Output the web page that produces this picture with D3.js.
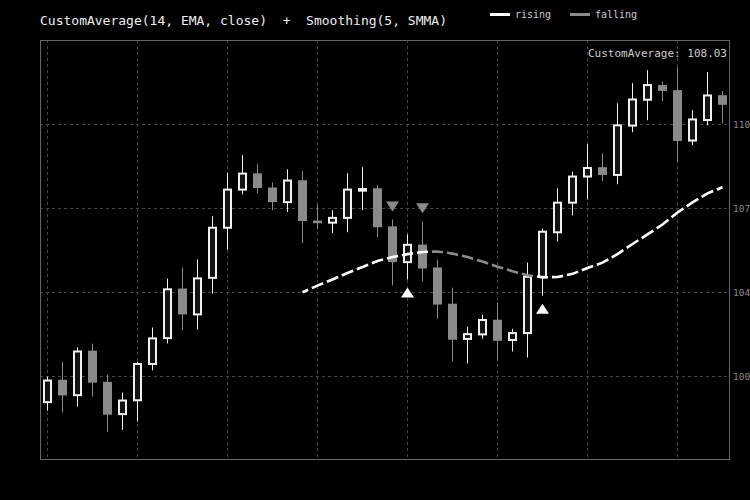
<!DOCTYPE html>
<html>
<head>
<meta charset="utf-8">
<script src="https://cdn.jsdelivr.net/npm/d3@7"></script>
<style>
  html, body { margin: 0; padding: 0; background: #000; }
  svg { display: block; }
  text { font-family: "DejaVu Sans Mono", monospace; }
</style>
</head>
<body>
<svg id="chart" width="750" height="500"></svg>
<script>
// ---- data ----
const opens  = [99.97,100.81,100.23,101.90,100.73,99.52,100.04,101.40,102.37,104.23,103.26,104.63,106.51,107.94,108.55,108.02,107.47,108.29,106.78,106.70,106.88,107.90,107.99,106.56,105.22,105.88,105.02,103.66,102.34,102.51,103.06,102.30,102.56,104.67,106.34,107.45,108.43,108.78,108.49,110.34,111.31,111.86,111.67,109.78,110.55,111.48];
const highs  = [100.93,101.48,102.03,102.16,100.99,100.33,101.49,102.77,104.60,105.02,105.32,106.94,108.56,109.23,108.89,108.21,108.70,108.63,107.38,107.17,108.56,108.78,108.11,106.82,106.26,106.75,105.32,104.26,102.80,103.25,103.70,102.72,105.20,106.48,107.99,108.61,109.64,109.30,111.18,111.93,112.42,111.98,112.53,110.92,112.35,111.63];
const lows   = [99.65,99.58,99.80,100.18,98.86,98.93,99.24,101.16,102.17,102.66,102.69,104.04,105.69,107.76,107.80,107.17,107.10,105.93,106.47,106.31,106.34,107.17,106.16,104.35,104.57,104.49,103.10,101.49,101.42,102.35,101.52,101.87,101.64,103.96,105.99,106.97,107.57,108.26,108.14,110.09,110.54,111.26,108.97,109.61,110.35,110.42];
const closes = [100.78,100.22,101.87,100.70,99.50,100.03,101.40,102.36,104.20,103.26,104.61,106.51,107.94,108.54,108.00,107.47,108.28,106.76,106.68,106.88,107.94,107.96,106.53,105.22,105.87,104.98,103.63,102.31,102.52,103.05,102.27,102.56,104.67,106.36,107.45,108.43,108.75,108.49,110.35,111.32,111.86,111.64,109.76,110.57,111.47,111.12];
// smoothed average, starts at bar 17
const avgStart = 17;
const avgValues = [104.09,104.34,104.57,104.81,105.04,105.26,105.41,105.52,105.60,105.62,105.54,105.41,105.24,105.05,104.88,104.73,104.65,104.66,104.78,105.00,105.20,105.52,105.90,106.26,106.63,107.08,107.46,107.80,108.03];
const sellSignals = [23, 25];
const buySignals  = [24, 33];
const yDomain = [97.8, 113.55];
const yTicks  = [100.95, 104.10, 107.25, 110.40];
const yTickLabels = ["100", "104", "107", "110"];
const xGridBars = [0, 6, 12, 18, 24, 30, 36, 42];
const titleText = "CustomAverage(14, EMA, close)  +  Smoothing(5, SMMA)";
const legendItems = ["rising", "falling"];

// ---- styles ----
const C_RISE = "#f0f0f0", C_FALL = "#8a8a8a", C_GRID = "#444", C_FRAME = "#666";
const L = 40, R = 730, T = 40, B = 460;

const svg = d3.select("#chart");
svg.append("rect").attr("width", 750).attr("height", 500).attr("fill", "#000");

const bars = d3.range(opens.length);
const x = d3.scaleBand().domain(bars).range([L, R]);
const cx = i => x(i) + x.bandwidth() / 2;
const y = d3.scaleLinear().domain(yDomain).range([B, T]);

// grid
svg.append("g").selectAll("line").data(yTicks).join("line")
  .attr("x1", L).attr("x2", R)
  .attr("y1", d => Math.round(y(d)) + 0.5).attr("y2", d => Math.round(y(d)) + 0.5)
  .attr("stroke", C_GRID).attr("stroke-dasharray", "3,3");
svg.append("g").selectAll("line").data(xGridBars).join("line")
  .attr("x1", d => Math.floor(cx(d)) + 0.5).attr("x2", d => Math.floor(cx(d)) + 0.5)
  .attr("y1", T).attr("y2", B)
  .attr("stroke", C_GRID).attr("stroke-dasharray", "3,3");

// frame
svg.append("rect").attr("x", L + 0.5).attr("y", T + 0.5)
  .attr("width", R - L - 1).attr("height", B - T - 1)
  .attr("fill", "none").attr("stroke", C_FRAME);

// axis
const axis = svg.append("g").attr("transform", `translate(${R},0)`)
  .call(d3.axisRight(y).tickValues(yTicks)
    .tickFormat((d, i) => yTickLabels[i]).tickSize(0).tickPadding(3));
axis.select(".domain").remove();
axis.selectAll("text").attr("fill", "#888").style("font-size", "9.5px")
  .style("font-family", "'DejaVu Sans Mono', monospace");

// candles
const candles = svg.append("g").selectAll("g").data(bars).join("g");
candles.append("line")
  .attr("x1", i => Math.floor(cx(i)) + 0.5).attr("x2", i => Math.floor(cx(i)) + 0.5)
  .attr("y1", i => y(highs[i])).attr("y2", i => y(lows[i]))
  .attr("stroke", i => closes[i] >= opens[i] ? C_RISE : C_FALL).attr("stroke-width", 1);
candles.append("rect")
  .attr("x", i => closes[i] >= opens[i] ? Math.floor(cx(i)) - 3 : Math.floor(cx(i)) - 4)
  .attr("width", i => closes[i] >= opens[i] ? 7 : 9)
  .attr("y", i => y(Math.max(opens[i], closes[i])))
  .attr("height", i => Math.max(0.5, Math.abs(y(opens[i]) - y(closes[i]))))
  .attr("fill", i => closes[i] >= opens[i] ? "#121212" : C_FALL)
  .attr("stroke", i => closes[i] >= opens[i] ? C_RISE : "none")
  .attr("stroke-width", 2);

// smoothed average line: one dash per point, coloured by direction
const avgPts = avgValues.map((v, k) => ({ i: avgStart + k, v, k }));
const n = avgPts.length;
const px = p => [cx(p.i), y(p.v)];
const avgG = svg.append("g");
avgPts.forEach((p, k) => {
  const P = px(p);
  const pts = [];
  if (k > 0) { const Q = px(avgPts[k - 1]); pts.push([(P[0] + Q[0]) / 2, (P[1] + Q[1]) / 2]); }
  pts.push(P);
  if (k < n - 1) { const Q = px(avgPts[k + 1]); pts.push([(P[0] + Q[0]) / 2, (P[1] + Q[1]) / 2]); }
  const rising = k < n - 1 ? avgPts[k + 1].v >= p.v : p.v >= avgPts[k - 1].v;
  const path = avgG.append("path")
    .attr("d", d3.line()(pts))
    .attr("fill", "none")
    .attr("stroke", rising ? "#ffffff" : C_FALL)
    .attr("stroke-width", 2.6);
  const len = path.node().getTotalLength();
  const gs = k > 0 ? 2 : 0, ge = k < n - 1 ? 2 : 0;
  path.attr("stroke-dasharray", `0,${gs},${Math.max(0, len - gs - ge)},${100}`);
});

// signals
svg.append("g").selectAll("path").data(sellSignals).join("path")
  .attr("d", i => {
    const c = cx(i), b = y(highs[i]) - 8;
    return `M${c - 6.5},${b - 10}L${c + 6.5},${b - 10}L${c},${b}Z`;
  })
  .attr("fill", C_FALL);
svg.append("g").selectAll("path").data(buySignals).join("path")
  .attr("d", i => {
    const c = cx(i), t = y(lows[i]) + 8;
    return `M${c},${t}L${c + 6.5},${t + 10}L${c - 6.5},${t + 10}Z`;
  })
  .attr("fill", "#ffffff");

// title
svg.append("text").attr("x", 40).attr("y", 25)
  .style("white-space", "pre").attr("xml:space", "preserve")
  .attr("fill", "#eeeeee").style("font-size", "13px")
  .text(titleText);

// legend
const legendX = [490, 570];
const leg = svg.append("g").selectAll("g").data(legendItems).join("g")
  .attr("transform", (d, i) => `translate(${legendX[i]},0)`);
leg.append("line").attr("x1", 0).attr("x2", 20).attr("y1", 14.5).attr("y2", 14.5)
  .attr("stroke", (d, i) => i === 0 ? "#ffffff" : C_FALL).attr("stroke-width", 3);
leg.append("text").attr("x", 25).attr("y", 18).attr("fill", "#cccccc")
  .style("font-size", "10px").text(d => d);

// last value label
svg.append("text").attr("x", 727).attr("y", 57).attr("text-anchor", "end")
  .attr("fill", "#cccccc").style("font-size", "11px")
  .text("CustomAverage: " + avgValues[avgValues.length - 1].toFixed(2));
</script>
</body>
</html>
